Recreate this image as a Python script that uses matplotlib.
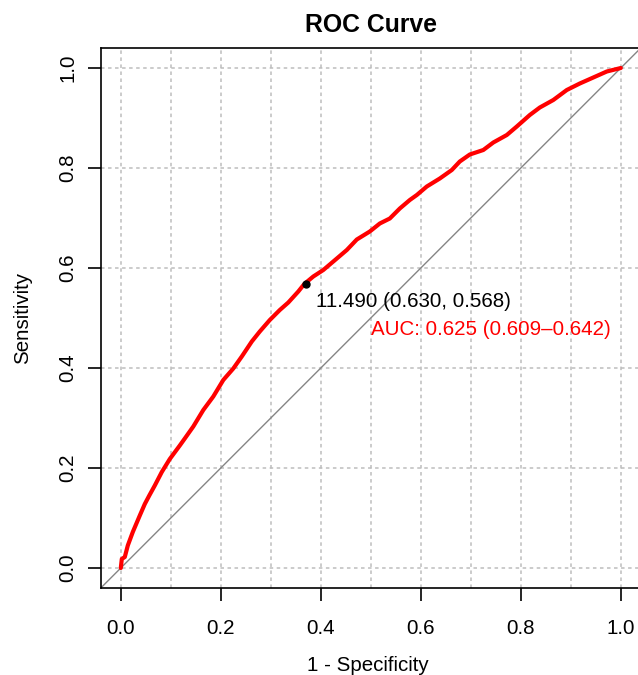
import matplotlib
matplotlib.use('Agg')
import matplotlib.pyplot as plt
import numpy as np

plt.rcParams['font.family'] = ['Liberation Sans', 'DejaVu Sans']

# ROC curve points (1 - specificity, sensitivity)
fpr = [0.000, 0.002, 0.008, 0.014, 0.024, 0.038, 0.048, 0.057, 0.068, 0.082,
       0.098, 0.118, 0.128, 0.145, 0.165, 0.185, 0.205, 0.225, 0.242, 0.262,
       0.278, 0.298, 0.318, 0.335, 0.355, 0.367, 0.385, 0.405, 0.425, 0.452,
       0.472, 0.498, 0.518, 0.538, 0.558, 0.578, 0.592, 0.612, 0.638, 0.662,
       0.678, 0.698, 0.725, 0.745, 0.772, 0.792, 0.818, 0.838, 0.865, 0.892,
       0.918, 0.945, 0.972, 1.000]
tpr = [0.000, 0.018, 0.022, 0.045, 0.072, 0.105, 0.128, 0.145, 0.165, 0.192,
       0.218, 0.245, 0.259, 0.283, 0.316, 0.343, 0.376, 0.399, 0.423, 0.453,
       0.473, 0.496, 0.516, 0.531, 0.553, 0.568, 0.583, 0.596, 0.613, 0.636,
       0.657, 0.673, 0.689, 0.699, 0.719, 0.736, 0.746, 0.763, 0.779, 0.796,
       0.813, 0.827, 0.836, 0.851, 0.866, 0.883, 0.906, 0.921, 0.936, 0.956,
       0.969, 0.981, 0.993, 1.000]

best_threshold = 11.490
best_specificity = 0.630
best_sensitivity = 0.568
auc = 0.625
auc_ci = (0.609, 0.642)

x_ticks = [0.0, 0.2, 0.4, 0.6, 0.8, 1.0]
x_ticklabels = ['0.0', '0.2', '0.4', '0.6', '0.8', '1.0']
y_ticks = [0.0, 0.2, 0.4, 0.6, 0.8, 1.0]
y_ticklabels = ['0.0', '0.2', '0.4', '0.6', '0.8', '1.0']
vgrid = [0.0, 0.1, 0.2, 0.3, 0.4, 0.5, 0.6, 0.7, 0.8, 0.9, 1.0]
hgrid = [0.0, 0.2, 0.4, 0.6, 0.8, 1.0]

W, H = 638, 675
fig = plt.figure(figsize=(W / 100, H / 100), dpi=100)
ax = fig.add_axes([100.8 / W, 87 / H, 540 / W, 540 / H])
ax.set_xlim(-0.04, 1.04)
ax.set_ylim(-0.04, 1.04)

gcol = '#BDBDBD'
for v in vgrid:
    ax.axvline(v, color=gcol, lw=1.1, ls=(0, (2.3, 2.3)), zorder=1)
for v in hgrid:
    ax.axhline(v, color=gcol, lw=1.1, ls=(0, (2.3, 2.3)), zorder=1)

ax.axline((0, 0), (1, 1), color='#858585', lw=1.0, zorder=2)
ax.plot(fpr, tpr, color='red', lw=3.0, zorder=3, solid_joinstyle='round',
        solid_capstyle='round')
ax.plot([1 - best_specificity], [best_sensitivity], 'o', color='black',
        ms=5, zorder=4)

ax.text(0.3904, 0.5226,
        f"{best_threshold:.3f} ({best_specificity:.3f}, {best_sensitivity:.3f})",
        color='black', fontsize=14.8, ha='left', va='baseline', zorder=5)
ax.text(0.4998, 0.466,
        f"AUC: {auc:.3f} ({auc_ci[0]:.3f}\u2013{auc_ci[1]:.3f})",
        color='red', fontsize=14.8, ha='left', va='baseline', zorder=5)

ax.set_xticks(x_ticks)
ax.set_xticklabels(x_ticklabels)
ax.set_yticks(y_ticks)
ax.set_yticklabels(y_ticklabels, rotation=90, va='center')
ax.tick_params(axis='both', direction='out', length=9.5, width=1.2,
               labelsize=14.8, color='black')
ax.tick_params(axis='x', pad=12.5)
ax.tick_params(axis='y', pad=7.2)
for s in ax.spines.values():
    s.set_linewidth(1.2)
    s.set_color('black')

fig.text(370.8 / W, 1 - 31.7 / H, 'ROC Curve', ha='center', va='baseline',
         fontsize=17.8, fontweight='bold')
fig.text(368.3 / W, 1 - 671 / H, '1 - Specificity', ha='center',
         va='baseline', fontsize=14.8)
fig.text(22.5 / W, 1 - 318 / H, 'Sensitivity', ha='center', va='center',
         rotation=90, fontsize=14.8)

fig.savefig('out.png', dpi=100)
